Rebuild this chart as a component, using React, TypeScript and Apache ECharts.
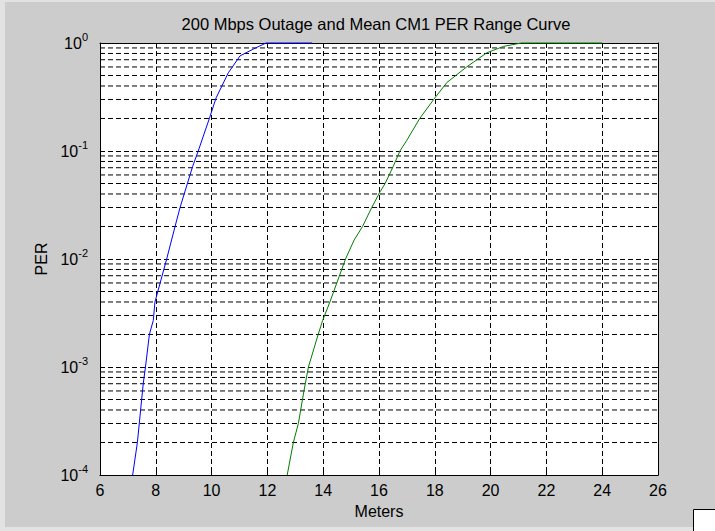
import React, { useEffect, useRef } from "react";
import * as echarts from "echarts";

const titleText = "200 Mbps Outage and Mean CM1 PER Range Curve";
const xLabel = "Meters";
const yLabel = "PER";

const xMin = 6;
const xMax = 26;
const xStep = 2;
const yMin = 1e-4;
const yMax = 1;

// Blue curve (first range curve)
const blueMeters = [7.17, 7.34, 7.55, 7.63, 7.77, 7.91, 7.97, 8.39, 8.69, 8.87, 9.32, 9.52, 9.92, 10.16, 10.6, 11.02, 11.5, 11.95, 13.6];
const bluePER = [1e-4, 2e-4, 7e-4, 1e-3, 2e-3, 2.7e-3, 4e-3, 1e-2, 2e-2, 3e-2, 0.072, 0.1, 0.2, 0.31, 0.53, 0.76, 0.88, 1, 1];

// Green curve (second range curve)
const greenMeters = [12.71, 12.93, 13.11, 13.31, 13.47, 13.82, 13.98, 14.24, 14.8, 15.11, 15.41, 15.74, 16.04, 16.22, 16.51, 16.75, 17.0, 17.46, 17.96, 18.43, 19.14, 19.86, 20.46, 21.1, 24.0];
const greenPER = [1e-4, 2e-4, 3e-4, 6e-4, 1e-3, 2e-3, 2.7e-3, 4e-3, 1e-2, 0.015, 0.02, 0.03, 0.042, 0.05, 0.072, 0.1, 0.126, 0.2, 0.3, 0.43, 0.6, 0.81, 0.93, 1, 1];

// Minor log grid lines (2..9 x each decade)
const decades = [1e-4, 1e-3, 1e-2, 1e-1];
const minorMultipliers = [2, 3, 4, 5, 6, 7, 8, 9];

const FONT = "'Liberation Sans', Arial, Helvetica, sans-serif";

export default function App() {
  const ref = useRef<HTMLDivElement>(null);

  useEffect(() => {
    if (!ref.current) return;
    const chart = echarts.init(ref.current, undefined, { renderer: "svg" });

    const minorVals: number[] = [];
    decades.forEach((d) => minorMultipliers.forEach((m) => minorVals.push(parseFloat((m * d).toPrecision(3)))));

    const dash = [5, 3];
    const gridLine = { show: true, lineStyle: { type: dash, color: "#000", width: 1 } };
    const axisLineStyle = { show: true, onZero: false, lineStyle: { color: "#000", width: 1 } };
    const tick = { show: true, inside: true, length: 5, lineStyle: { color: "#000", width: 1 } };

    const minorSeries = minorVals.map((v) => ({
      type: "line",
      xAxisIndex: 0,
      yAxisIndex: 0,
      data: [
        [xMin, v],
        [xMax, v],
      ],
      symbol: "none",
      silent: true,
      clip: false,
      lineStyle: { type: dash, color: "#000", width: 1 },
      z: 1,
      tooltip: { show: false },
    }));

    const option: any = {
      animation: false,
      backgroundColor: "#cccccc",
      textStyle: { fontFamily: FONT },
      graphic: [
        { type: "rect", shape: { x: 0, y: 0, width: 715, height: 2 }, style: { fill: "#e2e2e2" }, silent: true },
        { type: "rect", shape: { x: 0, y: 0, width: 5, height: 531 }, style: { fill: "#e2e2e2" }, silent: true },
        { type: "rect", shape: { x: 0, y: 527, width: 715, height: 4 }, style: { fill: "#e2e2e2" }, silent: true },
        {
          type: "text",
          x: 376,
          y: 24,
          style: {
            text: titleText,
            fill: "#000",
            font: `16.5px ${FONT}`,
            textAlign: "center",
            textVerticalAlign: "middle",
          },
          silent: true,
        },
        {
          type: "rect",
          shape: { x: 693.5, y: 509.5, width: 30, height: 30 },
          style: { fill: "#fff", stroke: "#000", lineWidth: 1 },
          silent: true,
        },
      ],
      grid: {
        left: 100,
        top: 43,
        width: 558,
        height: 432,
        show: true,
        backgroundColor: "#fff",
        borderWidth: 0,
      },
      xAxis: [
        {
          type: "value",
          min: xMin,
          max: xMax,
          interval: xStep,
          name: xLabel,
          nameLocation: "middle",
          nameGap: 28,
          nameTextStyle: { fontSize: 16, color: "#000", fontFamily: FONT },
          axisLine: axisLineStyle,
          axisTick: tick,
          axisLabel: { margin: 7, fontSize: 16, color: "#000", fontFamily: FONT },
          splitLine: gridLine,
        },
        {
          type: "value",
          position: "top",
          min: xMin,
          max: xMax,
          interval: xStep,
          axisLine: axisLineStyle,
          axisTick: tick,
          axisLabel: { show: false },
          splitLine: { show: false },
        },
      ],
      yAxis: [
        {
          type: "log",
          logBase: 10,
          min: yMin,
          max: yMax,
          name: yLabel,
          nameLocation: "middle",
          nameGap: 44,
          nameTextStyle: { fontSize: 16, color: "#000", fontFamily: FONT },
          axisLine: axisLineStyle,
          axisTick: tick,
          axisLabel: {
            margin: 12,
            color: "#000",
            fontFamily: FONT,
            formatter: (v: number) => `{b|10}{s|${Math.round(Math.log10(v))}}`,
            rich: {
              b: { fontSize: 16, lineHeight: 18, color: "#000", fontFamily: FONT },
              s: { fontSize: 11, lineHeight: 11, padding: [0, 0, 12, 0], color: "#000", fontFamily: FONT },
            },
          },
          splitLine: gridLine,
        },
        {
          type: "log",
          logBase: 10,
          position: "right",
          min: yMin,
          max: yMax,
          axisLine: axisLineStyle,
          axisTick: tick,
          axisLabel: { show: false },
          splitLine: { show: false },
        },
      ],
      series: [
        ...minorSeries,
        {
          type: "line",
          name: "blue",
          xAxisIndex: 0,
          yAxisIndex: 0,
          data: blueMeters.map((x, i) => [x, bluePER[i]]),
          symbol: "none",
          clip: false,
          lineStyle: { color: "#0000ff", width: 1 },
          z: 3,
        },
        {
          type: "line",
          name: "green",
          xAxisIndex: 0,
          yAxisIndex: 0,
          data: greenMeters.map((x, i) => [x, greenPER[i]]),
          symbol: "none",
          clip: false,
          lineStyle: { color: "#008000", width: 1 },
          z: 3,
        },
      ],
    };

    chart.setOption(option);
    return () => chart.dispose();
  }, []);

  return (
    <div
      ref={ref}
      style={{ position: "fixed", left: 0, top: 0, width: 715, height: 531 }}
    />
  );
}
